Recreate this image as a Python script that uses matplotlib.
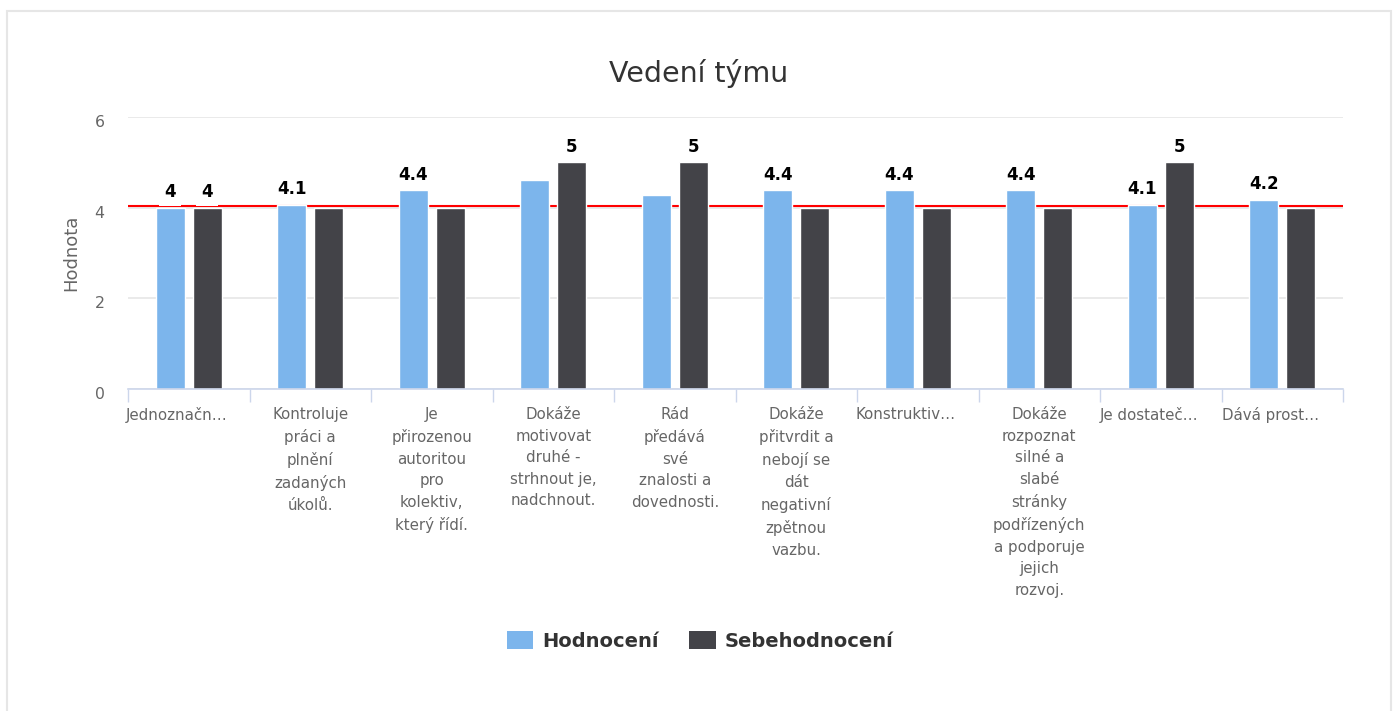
import matplotlib
matplotlib.use("Agg")
import matplotlib.pyplot as plt
from matplotlib.patches import Rectangle, Patch
from matplotlib.transforms import ScaledTranslation, blended_transform_factory

plt.rcParams["font.family"] = ["DejaVu Sans"]

# ---------------- data ----------------
categories = [
    "Jednoznačn…",
    "Kontroluje\npráci a\nplnění\nzadaných\núkolů.",
    "Je\npřirozenou\nautoritou\npro\nkolektiv,\nkterý řídí.",
    "Dokáže\nmotivovat\ndruhé -\nstrhnout je,\nnadchnout.",
    "Rád\npředává\nsvé\nznalosti a\ndovednosti.",
    "Dokáže\npřitvrdit a\nnebojí se\ndát\nnegativní\nzpětnou\nvazbu.",
    "Konstruktiv…",
    "Dokáže\nrozpoznat\nsilné a\nslabé\nstránky\npodřízených\na podporuje\njejich\nrozvoj.",
    "Je dostateč…",
    "Dává prost…",
]
hodnoceni = [4.0, 4.06, 4.38, 4.6, 4.28, 4.38, 4.38, 4.38, 4.06, 4.17]
sebehodnoceni = [4, 4, 4, 5, 5, 4, 4, 4, 5, 4]
show_label_h = [True, True, True, False, False, True, True, True, True, True]
show_label_s = [True, False, False, True, True, False, False, False, True, False]
reference_value = 4.04
y_ticks = [0, 2, 4, 6]
series_names = ["Hodnocení", "Sebehodnocení"]
title = "Vedení týmu"
y_title = "Hodnota"

# ---------------- style ----------------
C_H = "#7cb5ec"
C_S = "#434348"
W, H = 1396, 711
DPI = 100

fig = plt.figure(figsize=(W / DPI, H / DPI), dpi=DPI)
fig.patch.set_facecolor("white")

left, right, top, bottom = 128, 1343, 117, 389
ax = fig.add_axes([left / W, 1 - bottom / H, (right - left) / W, (bottom - top) / H])

n = len(categories)
xs = list(range(n))
bw = 0.24
off = 0.152

ax.bar([x - off for x in xs], hodnoceni, width=bw, color=C_H, edgecolor="white",
       linewidth=1.0, zorder=3)
ax.bar([x + off for x in xs], sebehodnoceni, width=bw, color=C_S, edgecolor="white",
       linewidth=1.0, zorder=3)

ax.axhline(reference_value, color="red", linewidth=1.5, zorder=2)

ax.set_xlim(-0.5, n - 0.5)
ax.set_ylim(0, 6)
ax.set_yticks(y_ticks)
ax.set_yticklabels([str(t) for t in y_ticks], fontsize=11.3, color="#666666")
ax.tick_params(axis="y", length=0, pad=17)
for lab in ax.get_yticklabels():
    lab.set_transform(lab.get_transform() + ScaledTranslation(0, -4 / DPI, fig.dpi_scale_trans))

ax.yaxis.grid(True, color="#e6e6e6", linewidth=1.2, zorder=0)
ax.set_axisbelow(True)

ax.set_xticks([x - 0.5 for x in range(n + 1)])
ax.set_xticklabels([])
ax.tick_params(axis="x", length=9.5, width=1, color="#ccd6eb", direction="out")

for s in ["top", "right", "left"]:
    ax.spines[s].set_visible(False)
ax.spines["bottom"].set_color("#ccd6eb")
ax.spines["bottom"].set_linewidth(1.2)
ax.spines["bottom"].set_zorder(4)

# category labels (truncated ones sit slightly left, as in the source chart)
base = blended_transform_factory(ax.transData, ax.transAxes)
for i, lab in enumerate(categories):
    dx = -12 if lab.endswith("…") else 0
    tr = base + ScaledTranslation(dx / DPI, -18 / DPI, fig.dpi_scale_trans)
    ax.text(i, 0, lab, transform=tr, ha="center", va="top", fontsize=10.8,
            color="#666666", linespacing=1.55, multialignment="center")


def fmt(v):
    s = f"{v:.1f}"
    if s.endswith(".0"):
        s = s[:-2]
    return s


for i in range(n):
    if show_label_h[i]:
        ax.annotate(fmt(hodnoceni[i]), (i - off, hodnoceni[i]), xytext=(0, 4.7),
                    textcoords="offset points", ha="center", va="bottom",
                    fontsize=12, fontweight="bold", color="black", zorder=5,
                    bbox=dict(boxstyle="square,pad=0.3", fc="white", ec="none"))
    if show_label_s[i]:
        ax.annotate(fmt(sebehodnoceni[i]), (i + off, sebehodnoceni[i]), xytext=(0, 4.7),
                    textcoords="offset points", ha="center", va="bottom",
                    fontsize=12, fontweight="bold", color="black", zorder=5,
                    bbox=dict(boxstyle="square,pad=0.3", fc="white", ec="none"))

# y title
ax.text((71 - left) / (right - left), 0.5, y_title, transform=ax.transAxes, rotation=90,
        ha="center", va="center", fontsize=13, color="#666666")

# title
fig.text(699 / W, 1 - 73 / H, title, ha="center", va="center", fontsize=20.5, color="#333333")

# legend
handles = [Patch(facecolor=C_H, edgecolor="none"), Patch(facecolor=C_S, edgecolor="none")]
leg = fig.legend(handles, series_names, loc="center", bbox_to_anchor=(700 / W, 1 - 641 / H),
                 ncol=2, frameon=False, handlelength=1.35, handleheight=1.0,
                 handletextpad=0.45, columnspacing=1.6,
                 prop={"size": 14, "weight": "bold"})
for t in leg.get_texts():
    t.set_color("#333333")

# outer border
fig.add_artist(Rectangle((7 / W, -0.05), (1391 - 7) / W, (H - 11) / H + 0.05,
                         transform=fig.transFigure, fill=False, edgecolor="#e6e6e6",
                         linewidth=1.5))

fig.savefig("out.png", dpi=DPI)
